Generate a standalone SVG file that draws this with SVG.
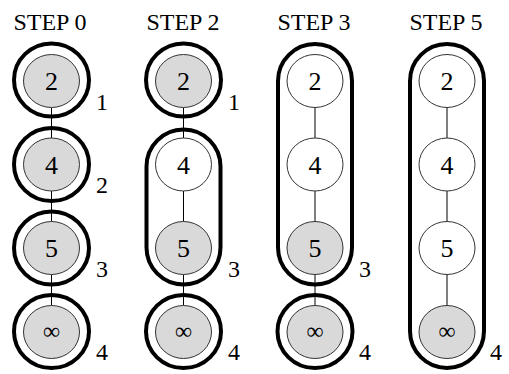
<svg xmlns="http://www.w3.org/2000/svg" width="509" height="374" viewBox="0 0 509 374">
<style>
.t{font-family:"Liberation Serif","Times New Roman",serif;fill:#000}
.title{font-size:24px;text-anchor:middle}
.nl{font-size:26px;text-anchor:middle}
.inf{font-size:24px;text-anchor:middle}
.lab{font-size:24px}
.g{fill:#d9d9d9;stroke:#333;stroke-width:1}
.w{fill:#fff;stroke:#333;stroke-width:1}
.ring{fill:none;stroke:#000;stroke-width:4}
.edge{stroke:#000;stroke-width:1;fill:none}
</style>
<rect width="509" height="374" fill="#fff"/>
<g id="titles">
<text class="t title" x="50" y="30">STEP 0</text>
<text class="t title" x="183" y="30">STEP 2</text>
<text class="t title" x="314" y="30">STEP 3</text>
<text class="t title" x="446" y="30">STEP 5</text>
</g>
<g id="connectors">
<path class="edge" d="M51.5 107.5V138M51.5 191V221.5M51.5 274.5V305.5"/>
<path class="edge" d="M183.5 107.5V138M183.5 191V221.5M183.5 274.5V305.5"/>
<path class="edge" d="M315 107.5V138M315 191V221.5M315 274.5V305.5"/>
<path class="edge" d="M447 107.5V138M447 191V221.5M447 274.5V305.5"/>
</g>
<g id="groups">
<ellipse class="ring" cx="51.5" cy="80" rx="37.5" ry="36.5"/>
<ellipse class="ring" cx="51.5" cy="164.5" rx="37.5" ry="36.5"/>
<ellipse class="ring" cx="51.5" cy="248" rx="37.5" ry="36.5"/>
<ellipse class="ring" cx="51.5" cy="331.5" rx="37.5" ry="36.5"/>
<ellipse class="ring" cx="183.5" cy="80" rx="37.5" ry="36.5"/>
<rect class="ring" x="146.5" y="129.5" width="74" height="155" rx="37" ry="37"/>
<ellipse class="ring" cx="183.5" cy="331.5" rx="37.5" ry="36.5"/>
<rect class="ring" x="278" y="44" width="74" height="240.5" rx="37" ry="37"/>
<ellipse class="ring" cx="315" cy="331.5" rx="37.5" ry="36.5"/>
<rect class="ring" x="410" y="44" width="74" height="324" rx="37" ry="37"/>
</g>
<g id="step0">
<g id="s0n2"><ellipse class="g" cx="51.5" cy="81" rx="28" ry="26.5"/><text class="t nl" x="51.5" y="90">2</text></g>
<g id="s0n4"><ellipse class="g" cx="51.5" cy="164.5" rx="28" ry="26.5"/><text class="t nl" x="51.5" y="173.5">4</text></g>
<g id="s0n5"><ellipse class="g" cx="51.5" cy="248" rx="28" ry="26.5"/><text class="t nl" x="51.5" y="257">5</text></g>
<g id="s0ninf"><ellipse class="g" cx="51.5" cy="332" rx="28" ry="26.5"/><text class="t inf" x="51.5" y="339">∞</text></g>
</g>
<g id="step2">
<g id="s2n2"><ellipse class="g" cx="183.5" cy="81" rx="28" ry="26.5"/><text class="t nl" x="183.5" y="90">2</text></g>
<g id="s2n4"><ellipse class="w" cx="183.5" cy="164.5" rx="28" ry="26.5"/><text class="t nl" x="183.5" y="173.5">4</text></g>
<g id="s2n5"><ellipse class="g" cx="183.5" cy="248" rx="28" ry="26.5"/><text class="t nl" x="183.5" y="257">5</text></g>
<g id="s2ninf"><ellipse class="g" cx="183.5" cy="332" rx="28" ry="26.5"/><text class="t inf" x="183.5" y="339">∞</text></g>
</g>
<g id="step3">
<g id="s3n2"><ellipse class="w" cx="315" cy="81" rx="28" ry="26.5"/><text class="t nl" x="315" y="90">2</text></g>
<g id="s3n4"><ellipse class="w" cx="315" cy="164.5" rx="28" ry="26.5"/><text class="t nl" x="315" y="173.5">4</text></g>
<g id="s3n5"><ellipse class="g" cx="315" cy="248" rx="28" ry="26.5"/><text class="t nl" x="315" y="257">5</text></g>
<g id="s3ninf"><ellipse class="g" cx="315" cy="332" rx="28" ry="26.5"/><text class="t inf" x="315" y="339">∞</text></g>
</g>
<g id="step5">
<g id="s5n2"><ellipse class="w" cx="447" cy="81" rx="28" ry="26.5"/><text class="t nl" x="447" y="90">2</text></g>
<g id="s5n4"><ellipse class="w" cx="447" cy="164.5" rx="28" ry="26.5"/><text class="t nl" x="447" y="173.5">4</text></g>
<g id="s5n5"><ellipse class="w" cx="447" cy="248" rx="28" ry="26.5"/><text class="t nl" x="447" y="257">5</text></g>
<g id="s5ninf"><ellipse class="g" cx="447" cy="332" rx="28" ry="26.5"/><text class="t inf" x="447" y="339">∞</text></g>
</g>
<g id="labels">
<text class="t lab" x="96" y="110">1</text>
<text class="t lab" x="96" y="193">2</text>
<text class="t lab" x="96" y="277">3</text>
<text class="t lab" x="96" y="360">4</text>
<text class="t lab" x="228" y="110">1</text>
<text class="t lab" x="228" y="277">3</text>
<text class="t lab" x="228" y="360">4</text>
<text class="t lab" x="359" y="277">3</text>
<text class="t lab" x="359" y="360">4</text>
<text class="t lab" x="490" y="360">4</text>
</g>
</svg>
